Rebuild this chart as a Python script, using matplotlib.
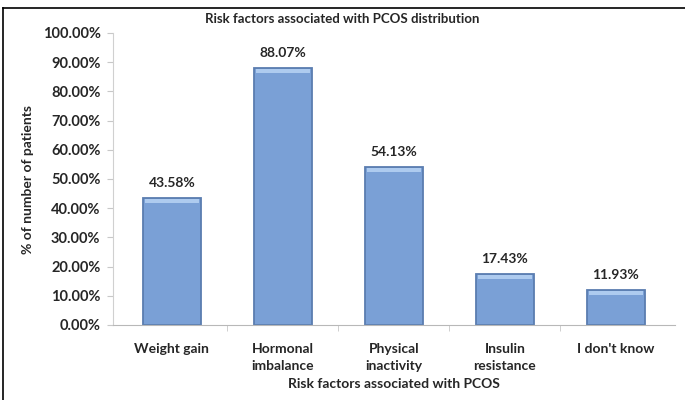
import matplotlib.pyplot as plt
from matplotlib.lines import Line2D
from matplotlib.ticker import PercentFormatter

plt.rcParams["font.family"] = ["Lato", "DejaVu Sans"]
plt.rcParams["font.weight"] = "bold"

categories = ["Weight gain", "Hormonal\nimbalance", "Physical\ninactivity", "Insulin\nresistance", "I don't know"]
values = [43.58, 88.07, 54.13, 17.43, 11.93]
yticks = [0, 10, 20, 30, 40, 50, 60, 70, 80, 90, 100]

text_col = "#262626"
bar_col = "#7aa0d6"
edge_col = "#5a7db0"
hl_col = "#aecbef"

fig = plt.figure(figsize=(6.85, 4.0), dpi=100)
ax = fig.add_axes([0.165, 0.1875, 0.82, 0.73])

x = list(range(len(categories)))
ax.bar(x, values, width=0.52, color=bar_col, edgecolor=edge_col, linewidth=1.3, zorder=2)
# light band just under the top edge of each bar
hl = 1.4
ax.bar(x, [hl] * len(values), bottom=[v - hl - 0.4 for v in values], width=0.48,
       color=hl_col, linewidth=0, zorder=3)

for xi, v in zip(x, values):
    ax.text(xi, v + 3.0, f"{v:.2f}%", ha="center", va="bottom", fontsize=10,
            fontweight="bold", color=text_col)

ax.set_xlim(-0.53, len(categories) - 0.47)
ax.set_ylim(0, 100)
ax.set_yticks(yticks)
ax.yaxis.set_major_formatter(PercentFormatter(decimals=2))
ax.set_xticks(x)
ax.set_xticklabels(categories, linespacing=1.45, multialignment="center")
ax.set_xticks([i + 0.5 for i in x[:-1]], minor=True)

ax.tick_params(axis="y", length=4, color="#c8c8c8", labelsize=10.5, labelcolor=text_col, pad=5)
ax.tick_params(axis="x", which="major", length=0, labelsize=10, labelcolor=text_col, pad=13)
ax.tick_params(axis="x", which="minor", length=4, color="#c8c8c8")

for s in ["top", "right"]:
    ax.spines[s].set_visible(False)
ax.spines["left"].set_color("#d0d0d0")
ax.spines["bottom"].set_color("#b8b8b8")

ax.set_xlabel("Risk factors associated with PCOS", fontsize=10, fontweight="bold",
              color=text_col, labelpad=5)
ax.set_ylabel("% of number of patients", fontsize=10, fontweight="bold",
              color=text_col, labelpad=6)
fig.text(0.50, 0.953, "Risk factors associated with PCOS distribution", ha="center",
         va="center", fontsize=9.5, fontweight="bold", color=text_col)

# frame lines along the top and left edges
fig.add_artist(Line2D([0.004, 1.0], [0.98, 0.98], transform=fig.transFigure, color="black", linewidth=1.2))
fig.add_artist(Line2D([0.004, 0.004], [0.0, 0.98], transform=fig.transFigure, color="black", linewidth=1.2))

fig.savefig("out.png", dpi=100)
